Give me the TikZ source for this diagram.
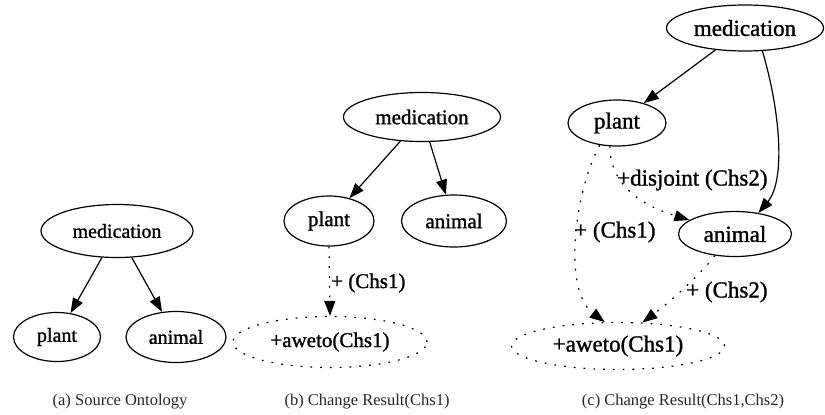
\documentclass[tikz,border=0pt]{standalone}
\usepackage{fontspec}
\setmainfont{Liberation Serif}
\newfontfamily\graphfont[FakeBold=1.2]{Liberation Serif}
\usetikzlibrary{shapes.geometric,arrows.meta}

\begin{document}
\begin{tikzpicture}[x=1pt,y=-1pt,
  concept/.style={draw, ellipse, inner sep=0pt, line width=1.2pt},
  added/.style={concept, dash pattern=on 1.8pt off 8pt},
  isa/.style={line width=1.2pt, -{Triangle[length=15pt,width=11pt]}},
  change/.style={isa, dash pattern=on 1.8pt off 8pt},
  fa/.style={font=\graphfont\fontsize{20}{22}\selectfont},
  fb/.style={font=\graphfont\fontsize{21}{23}\selectfont},
  fc/.style={font=\graphfont\fontsize{23}{25}\selectfont},
  caption/.style={font=\fontsize{16.5}{18}\selectfont, text=black!85},
  elabel/.style={anchor=west, inner sep=0pt}
]
\useasboundingbox (0,0) rectangle (825,415);

% (a) source ontology
\node[concept, fa, minimum width=152pt, minimum height=53pt] (amed) at (117,231) {medication};
\node[concept, fa, minimum width=87pt, minimum height=49pt] (aplant) at (57,337) {plant};
\node[concept, fa, minimum width=100pt, minimum height=51pt] (aanimal) at (176,337) {animal};
\draw[isa] (amed) -- (aplant);
\draw[isa] (amed) -- (aanimal);
\node[caption] (capa) at (120,402) {(a) Source Ontology};

% (b) result after Chs1
\node[concept, fb, minimum width=157pt, minimum height=49pt] (bmed) at (422,117) {medication};
\node[concept, fb, minimum width=90pt, minimum height=50pt] (bplant) at (329,221) {plant};
\node[concept, fb, minimum width=105pt, minimum height=52pt] (banimal) at (454,221) {animal};
\node[added, fb, minimum width=194pt, minimum height=51pt] (baweto) at (330,342) {+aweto(Chs1)};
\draw[isa] (bmed) -- (bplant);
\draw[isa] (bmed) -- (banimal);
\draw[change] (bplant.south) -- (baweto.north);
\node[elabel, fb] (lb1) at (331,283) {+ (Chs1)};
\node[caption] (capb) at (367,402) {(b) Change Result(Chs1)};

% (c) result after Chs1 and Chs2
\node[concept, fc, minimum width=157pt, minimum height=46pt] (cmed) at (745,28) {medication};
\node[concept, fc, minimum width=98pt, minimum height=46pt] (cplant) at (617,123) {plant};
\node[concept, fc, minimum width=113pt, minimum height=45pt] (canimal) at (735,234) {animal};
\node[added, fc, minimum width=213pt, minimum height=47pt] (caweto) at (618,346) {+aweto(Chs1)};
\draw[isa] (cmed) -- (cplant);
\draw[isa] (cmed.-53) .. controls (780,110) and (786,180) .. (canimal.42);
\draw[change] (cplant.-107) .. controls (610,190) and (650,208) .. (canimal.163);
\draw[change] (cplant.-128) .. controls (575,190) and (562,290) .. (caweto.119);
\draw[change] (canimal.-133) .. controls (700,275) and (670,302) .. (caweto.44);
\node[elabel, fc] (lc1) at (617,180) {+disjoint (Chs2)};
\node[elabel, fc] (lc2) at (574,232) {+ (Chs1)};
\node[elabel, fc] (lc3) at (686,292) {+ (Chs2)};
\node[caption] (capc) at (683,402) {(c) Change Result(Chs1,Chs2)};
\end{tikzpicture}
\end{document}
